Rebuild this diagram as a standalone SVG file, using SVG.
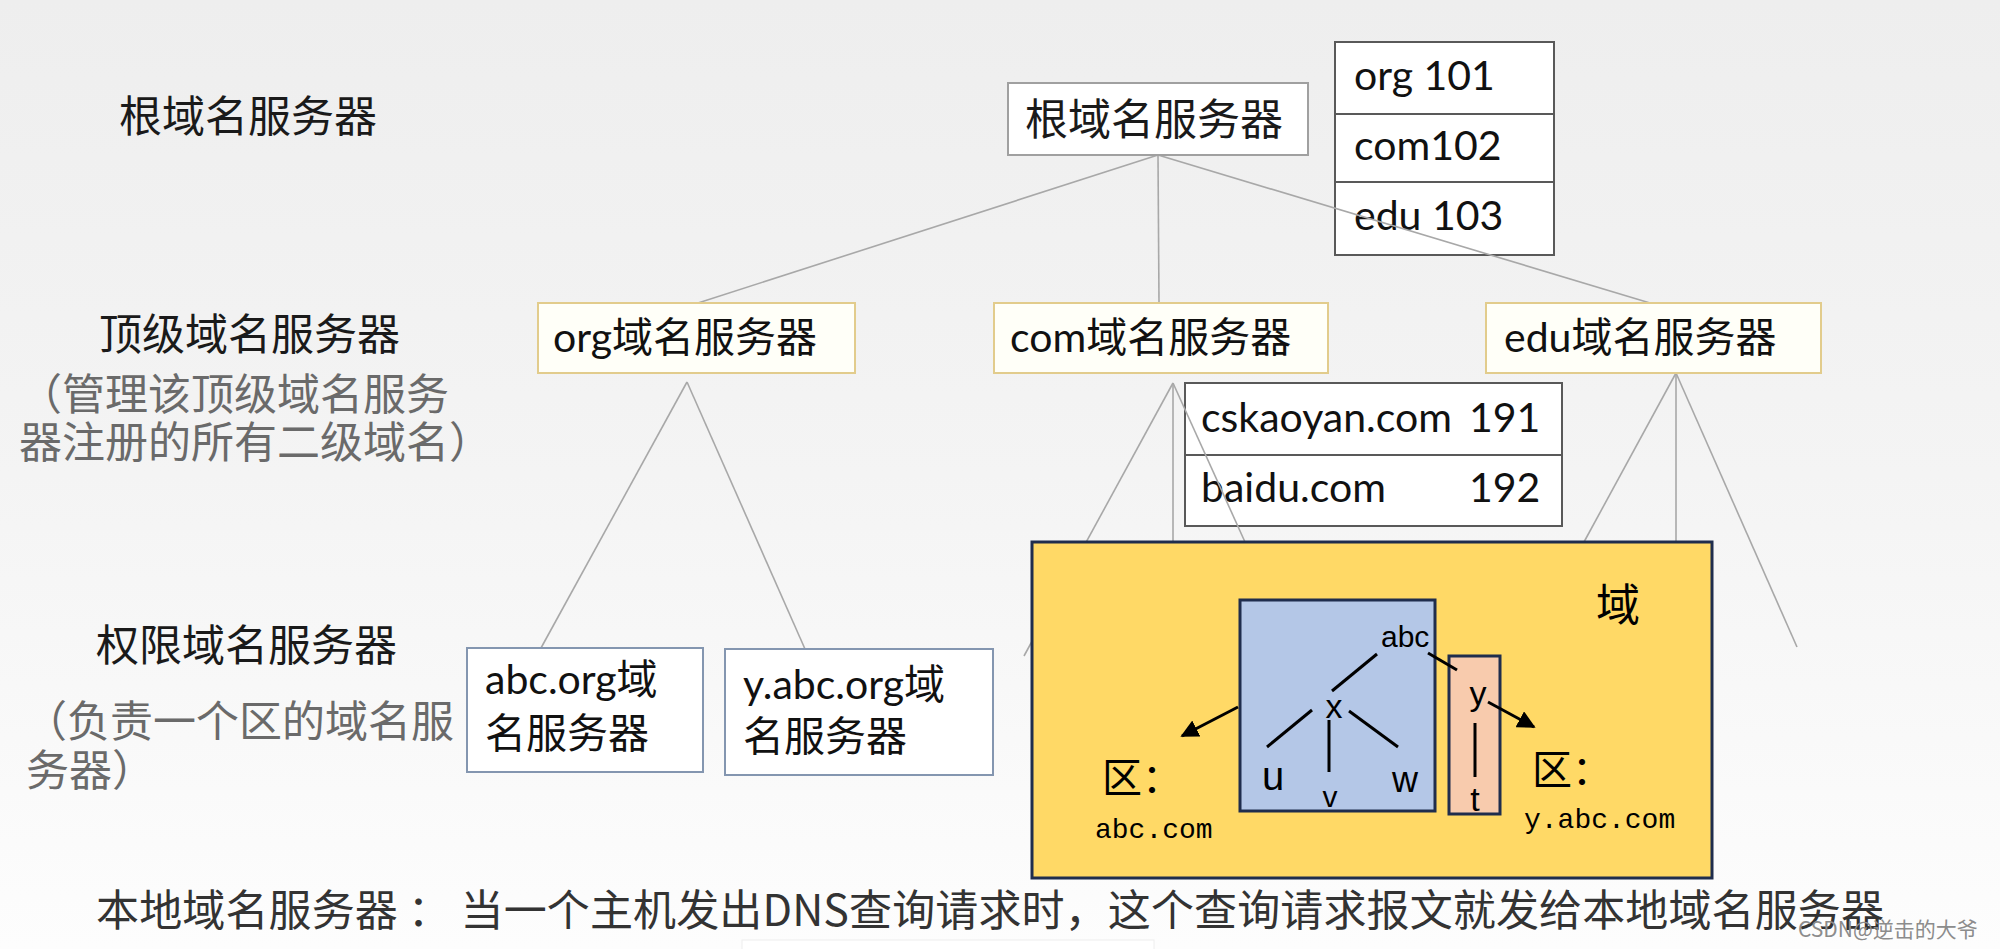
<svg xmlns="http://www.w3.org/2000/svg" width="2000" height="949" viewBox="0 0 2000 949">
<defs>
<linearGradient id="bg" x1="0" y1="0" x2="0" y2="1">
<stop offset="0" stop-color="#eeeeee"/>
<stop offset="0.5" stop-color="#f4f4f4"/>
<stop offset="1" stop-color="#fdfdfd"/>
</linearGradient>
<marker id="ah" viewBox="0 0 10 10" refX="9" refY="5" markerWidth="6" markerHeight="6" orient="auto" markerUnits="strokeWidth">
<path d="M0,0 L10,5 L0,10 z" fill="#000"/>
</marker>
</defs>
<style>
.cjk{font-family:"Noto Sans CJK SC",sans-serif;font-size:43px;fill:#1a1a1a}
.gray{fill:#6a6a6a}
.lat{font-family:Lato,"Noto Sans CJK SC",sans-serif;font-size:41px;fill:#111}
.conn{stroke:#a8a8a8;stroke-width:1.6;fill:none}
.inner{stroke:#000;stroke-width:3;fill:none}
.sm{font-family:"Liberation Sans",sans-serif;fill:#000}
.mono{font-family:"Liberation Mono",monospace;font-size:28px;fill:#000}
.tbl{fill:#fff;stroke:#595959;stroke-width:2}
</style>
<rect x="0" y="0" width="2000" height="949" fill="url(#bg)"/>
<rect x="742" y="940" width="412" height="12" fill="#ffffff" stroke="#eeeeee" stroke-width="1"/>

<g id="labels">
<text class="cjk" x="119" y="132">根域名服务器</text>
<text class="cjk" x="99" y="350">顶级域名服务器</text>
<text class="cjk gray" x="19" y="410">（管理该顶级域名服务</text>
<text class="cjk gray" x="19" y="458">器注册的所有二级域名）</text>
<text class="cjk" x="96" y="661">权限域名服务器</text>
<text class="cjk gray" x="24" y="737">（负责一个区的域名服</text>
<text class="cjk gray" x="26" y="786">务器）</text>
<text class="cjk" x="96" y="926" textLength="1788" lengthAdjust="spacing" style="fill:#333">本地域名服务器 ： 当一个主机发出DNS查询请求时，这个查询请求报文就发给本地域名服务器</text>
</g>

<g id="root-table">
<rect class="tbl" x="1335" y="42" width="219" height="72"/>
<rect class="tbl" x="1335" y="114" width="219" height="68"/>
<rect class="tbl" x="1335" y="182" width="219" height="73"/>
<text class="lat" x="1354" y="90">org 101</text>
<text class="lat" x="1354" y="160">com102</text>
<text class="lat" x="1354" y="230">edu 103</text>
</g>

<g id="com-table">
<rect class="tbl" x="1185" y="383" width="377" height="72"/>
<rect class="tbl" x="1185" y="455" width="377" height="71"/>
<text class="lat" x="1201" y="432">cskaoyan.com</text>
<text class="lat" x="1469" y="432">191</text>
<text class="lat" x="1201" y="502">baidu.com</text>
<text class="lat" x="1469" y="502">192</text>
</g>

<g id="connectors">
<line class="conn" x1="1158" y1="155" x2="698" y2="303"/>
<line class="conn" x1="1158" y1="155" x2="1159" y2="303"/>
<line class="conn" x1="1158" y1="155" x2="1650" y2="303"/>
<line class="conn" x1="687" y1="382" x2="541" y2="648"/>
<line class="conn" x1="687" y1="382" x2="805" y2="649"/>
<line class="conn" x1="1173" y1="383" x2="1024" y2="656"/>
<line class="conn" x1="1173" y1="383" x2="1173" y2="542"/>
<line class="conn" x1="1173" y1="383" x2="1245" y2="542"/>
<line class="conn" x1="1676" y1="373" x2="1584" y2="542"/>
<line class="conn" x1="1676" y1="373" x2="1676" y2="542"/>
<line class="conn" x1="1676" y1="373" x2="1797" y2="647"/>
</g>

<g id="root">
<rect x="1008" y="83" width="300" height="72" fill="#fff" stroke="#a0a0a0" stroke-width="2"/>
<text class="cjk" x="1025" y="135">根域名服务器</text>
</g>

<g id="org">
<rect x="538" y="303" width="317" height="70" fill="#fffff8" stroke="#e2cc8c" stroke-width="2"/>
<text class="lat" x="553" y="352">org域名服务器</text>
</g>
<g id="com">
<rect x="994" y="303" width="334" height="70" fill="#fffff8" stroke="#e2cc8c" stroke-width="2"/>
<text class="lat" x="1010" y="352">com域名服务器</text>
</g>
<g id="edu">
<rect x="1486" y="303" width="335" height="70" fill="#fffff8" stroke="#e2cc8c" stroke-width="2"/>
<text class="lat" x="1504" y="352">edu域名服务器</text>
</g>

<g id="abc-org">
<rect x="467" y="648" width="236" height="124" fill="#fff" stroke="#8496b0" stroke-width="2"/>
<text class="lat" x="485" y="694">abc.org域</text>
<text class="lat" x="485" y="748">名服务器</text>
</g>
<g id="y-abc-org">
<rect x="725" y="649" width="268" height="126" fill="#fff" stroke="#8496b0" stroke-width="2"/>
<text class="lat" x="743" y="699">y.abc.org域</text>
<text class="lat" x="743" y="751">名服务器</text>
</g>

<g id="domain">
<rect x="1032" y="542" width="680" height="336" fill="#ffd966" stroke="#1f2d4d" stroke-width="3"/>
<text class="cjk" x="1596" y="621" style="font-size:44px;fill:#000">域</text>
</g>
<g id="zone-abc">
<rect x="1240" y="600" width="195" height="211" fill="#b4c7e7" stroke="#1f2d4d" stroke-width="3"/>
<text class="sm" x="1381" y="647" style="font-size:30px">abc</text>
<text class="sm" x="1334" y="718" text-anchor="middle" style="font-size:34px">x</text>
<text class="sm" x="1262" y="790" style="font-size:40px">u</text>
<text class="sm" x="1330" y="807" text-anchor="middle" style="font-size:30px">v</text>
<text class="sm" x="1392" y="792" style="font-size:36px">w</text>
<line class="inner" x1="1377" y1="654" x2="1332" y2="691"/>
<line class="inner" x1="1312" y1="710" x2="1267" y2="747"/>
<line class="inner" x1="1329" y1="720" x2="1329" y2="772"/>
<line class="inner" x1="1349" y1="711" x2="1398" y2="747"/>
</g>
<g id="zone-y">
<rect x="1449" y="656" width="51" height="158" fill="#f8cbad" stroke="#1f2d4d" stroke-width="3"/>
<text class="sm" x="1478" y="705" text-anchor="middle" style="font-size:34px">y</text>
<line class="inner" x1="1475" y1="723" x2="1475" y2="777"/>
<text class="sm" x="1475" y="811" text-anchor="middle" style="font-size:34px">t</text>
</g>
<g id="zone-connectors">
<line class="inner" x1="1428" y1="653" x2="1457" y2="670"/>
<line class="inner" x1="1238" y1="707" x2="1182" y2="736" marker-end="url(#ah)"/>
<line class="inner" x1="1488" y1="702" x2="1534" y2="727" marker-end="url(#ah)"/>
</g>
<g id="zone-labels">
<text class="cjk" x="1102" y="792" style="font-size:40px;fill:#000">区：</text>
<text class="mono" x="1095" y="838">abc.com</text>
<text class="cjk" x="1532" y="784" style="font-size:40px;fill:#000">区：</text>
<text class="mono" x="1524" y="828">y.abc.com</text>
</g>

<text x="1798" y="937" style="font-family:'Noto Sans CJK SC',sans-serif;font-size:21px;fill:#8c8c8c">CSDN@逆击的大爷</text>
</svg>
